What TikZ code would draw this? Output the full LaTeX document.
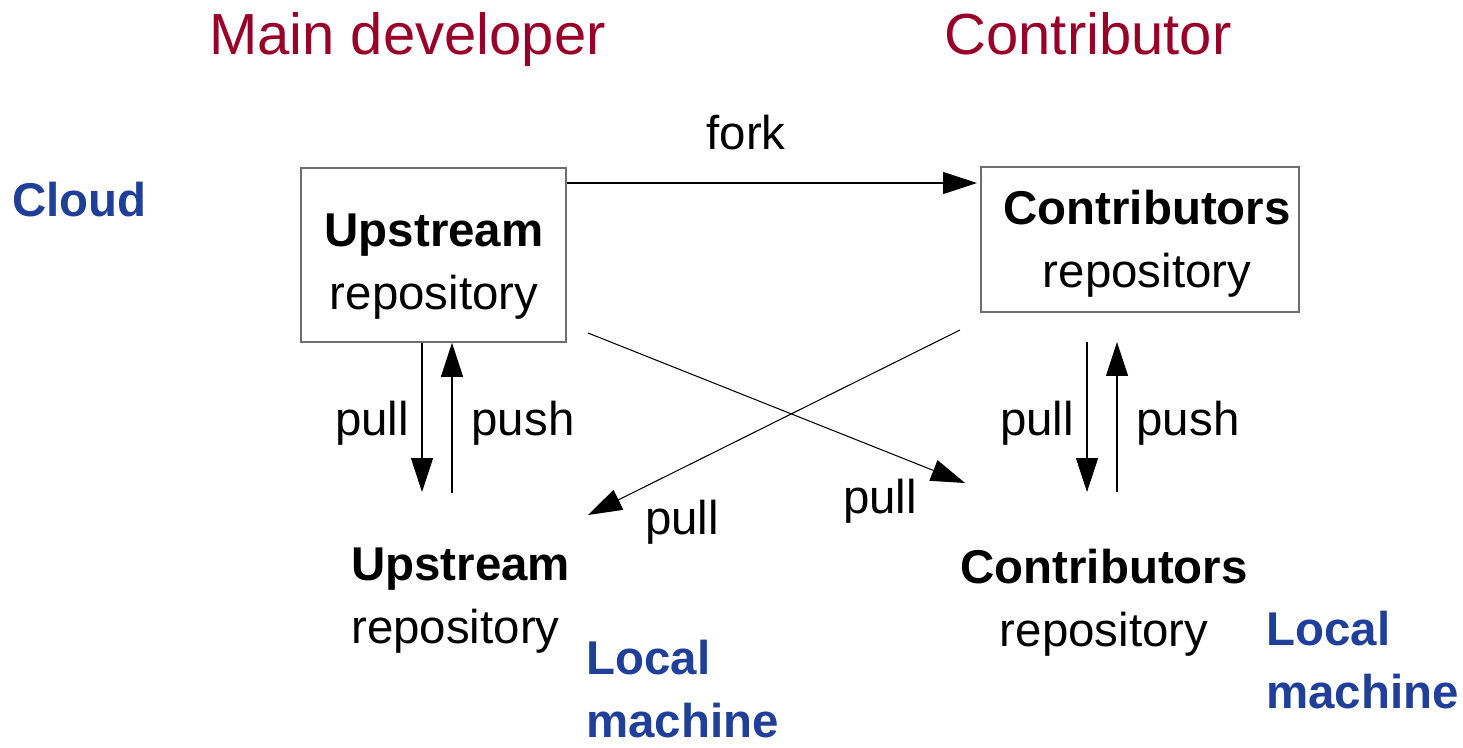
\documentclass[tikz,border=0pt]{standalone}
\usepackage{fontspec}
\setmainfont{Liberation Sans}
\usetikzlibrary{arrows.meta, positioning}
\definecolor{devred}{HTML}{990029}
\definecolor{placeblue}{HTML}{1F3F99}
\definecolor{boxgray}{HTML}{6E6E6E}

\begin{document}
\begin{tikzpicture}[
    x=0.02cm, y=-0.02cm,
    every node/.style={font=\fontsize{27}{35.7}\selectfont, inner sep=0pt},
    title/.style={
        font=\fontsize{33}{40}\selectfont,
        text=devred,
        anchor=base
    },
    repo/.style={
        rectangle,
        draw=boxgray,
        line width=0.9pt
    },
    repotext/.style={align=center},
    place/.style={
        align=left,
        text=placeblue,
        font=\fontsize{27}{36.2}\selectfont\bfseries
    },
    lbl/.style={anchor=base},
    arrow/.style={line width=0.6pt, -{Triangle[length=0.68cm, width=0.44cm]}}
]
\useasboundingbox (0,0) rectangle (1463,747);

\node[title] (maindev) at (407.5,54) {Main developer};
\node[title] (contrib) at (1088,54) {Contributor};
\node[place, anchor=base west] (cloud) at (12,216) {Cloud};

\node[repo, minimum width=5.3cm, minimum height=3.48cm] (upcloud) at (433.5,255) {};
\node[repotext] (upcloudtxt) at (434,266.5) {\textbf{Upstream}\\repository};
\node[repo, minimum width=6.36cm, minimum height=2.9cm] (contribcloud) at (1140,239.5) {};
\node[repotext] (contribcloudtxt) at (1147,243.5) {\textbf{Contributors}\\repository};

\node[repotext, align=left, anchor=west] (uplocal) at (351,600.5) {\textbf{Upstream}\\repository};
\node[repotext] (contriblocal) at (1104,602.5) {\textbf{Contributors}\\repository};
\node[place, anchor=west] (upplace) at (586,689) {Local\\machine};
\node[place, anchor=west] (contribplace) at (1266,660) {Local\\machine};

\coordinate (forkend) at (977,183);
\coordinate (uppull) at (422,492);
\coordinate (uppush) at (452,493);
\coordinate (cpullstart) at (1087,342);
\coordinate (cpullend) at (1087,492);
\coordinate (cpushstart) at (1117,492);
\coordinate (cpushend) at (1117,342);
\coordinate (crossa) at (588,333);
\coordinate (crossb) at (965,483);
\coordinate (crossc) at (960,330);
\coordinate (crossd) at (588,515);

\draw[arrow] (upcloud.east |- forkend) -- (forkend);
\draw[arrow] (upcloud.south -| uppull) -- (uppull);
\draw[arrow] (uppush) -- (upcloud.south -| uppush);
\draw[arrow] (cpullstart) -- (cpullend);
\draw[arrow] (cpushstart) -- (cpushend);
\draw[arrow] (crossa) -- (crossb);
\draw[arrow] (crossc) -- (crossd);

\node[lbl] (forklbl) at (746,149) {fork};
\node[lbl] (uppulllbl) at (372,435) {pull};
\node[lbl] (uppushlbl) at (523,435) {push};
\node[lbl] (cpulllbl) at (1037,435) {pull};
\node[lbl] (cpushlbl) at (1188,435) {push};
\node[lbl] (crossdlbl) at (682,534) {pull};
\node[lbl] (crossblbl) at (880,513) {pull};

\end{tikzpicture}
\end{document}
